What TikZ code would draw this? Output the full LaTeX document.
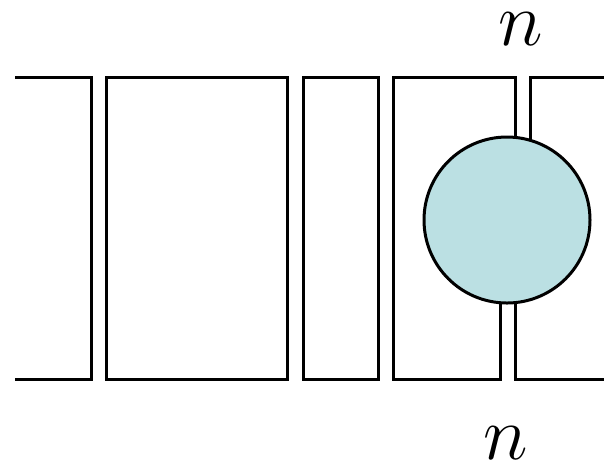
\documentclass[tikz,border=0pt]{standalone}
\usepackage{graphicx}
\usepackage{xcolor}
\definecolor{ballfill}{RGB}{187,224,227}
\newcommand{\biglbl}[1]{\scalebox{1.53}{\Huge$#1$}}
\begin{document}
\begin{tikzpicture}[x=0.5pt,y=-0.5pt,
  ln/.style={line width=1.5pt,line join=miter},
  lbl/.style={inner sep=0pt}]
\useasboundingbox (0,0) rectangle (604,463);
% left bracket
\draw[ln] (15,77) -- (91,77) -- (91,379) -- (15,379);
% rectangles
\draw[ln] (106.5,77) rectangle (287.5,379);
\draw[ln] (303,77) rectangle (378.5,379);
% right part with circle
\draw[ln] (515,139) -- (515,77) -- (393,77) -- (393,379) -- (500,379) -- (500,301);
\draw[ln] (530,139) -- (530,77) -- (604,77);
\draw[ln] (515,301) -- (515,379) -- (604,379);
\node[circle, draw, line width=1.5pt, fill=ballfill, minimum size=83pt, inner sep=0pt] (ball) at (507,220) {};
\node[lbl] (ntop) at (521,29) {\biglbl{n}};
\node[lbl] (nbot) at (506,443) {\biglbl{n}};
\end{tikzpicture}
\end{document}
